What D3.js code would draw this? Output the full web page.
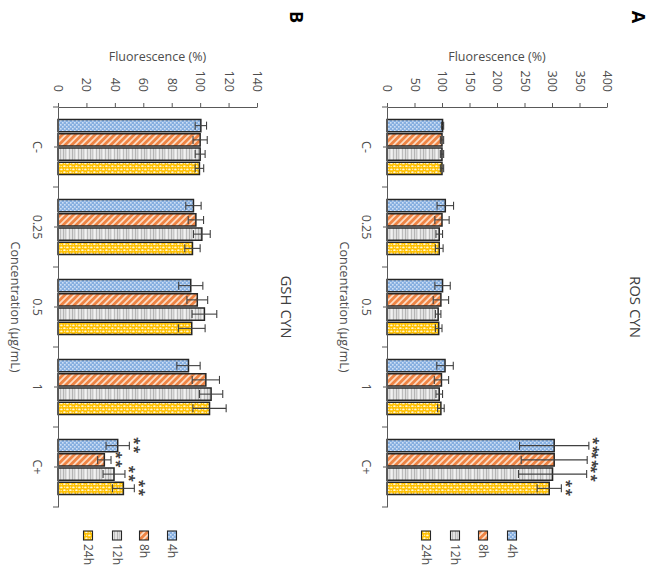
<!DOCTYPE html>
<html><head><meta charset="utf-8">
<script src="https://cdn.jsdelivr.net/npm/d3@7"></script>
<style>html,body{margin:0;padding:0;background:#fff;} svg{display:block;}</style>
</head><body>
<svg id="chart" width="652" height="566"></svg>
<script>
const categories = ["C-", "0.25", "0.5", "1", "C+"];
const series = ["4h", "8h", "12h", "24h"];

// ROS CYN, fluorescence (% of control)
const ros4h  = [101, 106, 101, 105.5, 304];
const ros8h  = [100, 100, 98, 99, 304];
const ros12h = [100, 95, 93, 95, 301];
const ros24h = [100, 95, 94, 98, 295];
const rosErr4h  = [2, 15, 14, 15, 63];
const rosErr8h  = [3, 13, 14, 13, 60];
const rosErr12h = [3, 6, 5, 6, 62];
const rosErr24h = [3, 7, 6, 6, 22];
const rosSig = ["", "", "", "", "**"];
const rosTicks = [0, 50, 100, 150, 200, 250, 300, 350, 400];

// GSH CYN, fluorescence (% of control)
const gsh4h  = [100.5, 95.3, 93.4, 91.8, 42];
const gsh8h  = [100, 97, 98, 104, 32.6];
const gsh12h = [100, 101.2, 103, 107.7, 39.4];
const gsh24h = [99.5, 94.6, 94.1, 106.6, 46];
const gshErr4h  = [4, 5.4, 8.5, 8.2, 8.2];
const gshErr8h  = [5, 5.4, 7.3, 9.6, 4.7];
const gshErr12h = [3.5, 5.9, 8.7, 8.2, 7.7];
const gshErr24h = [3, 5.4, 9.4, 11.7, 7.7];
const gshSig = ["", "", "", "", "**"];
const gshTicks = [0, 20, 40, 60, 80, 100, 120, 140];

const FONT = "'Open Sans', 'Liberation Sans', sans-serif";
const TXT = "#4d4d4d";

const svg = d3.select("#chart");
const defs = svg.append("defs");

// Fill patterns for the four exposure times
function pattern(id, w, h, transform) {
  const p = defs.append("pattern").attr("id", id)
    .attr("patternUnits", "userSpaceOnUse").attr("width", w).attr("height", h);
  if (transform) p.attr("patternTransform", transform);
  return p;
}
const p4 = pattern("pat-4h", 4, 4);
p4.append("rect").attr("width", 4).attr("height", 4).attr("fill", "#86afe0");
p4.append("rect").attr("x", 0).attr("y", 0).attr("width", 1.6).attr("height", 1.6).attr("fill", "#cfe0f5");
p4.append("rect").attr("x", 2).attr("y", 2).attr("width", 1.6).attr("height", 1.6).attr("fill", "#cfe0f5");

const p8 = pattern("pat-8h", 4.6, 4.6, "rotate(45)");
p8.append("rect").attr("width", 4.6).attr("height", 4.6).attr("fill", "#fcdcc4");
p8.append("rect").attr("width", 2.8).attr("height", 4.6).attr("fill", "#ef8444");

const p12 = pattern("pat-12h", 9, 10);
p12.append("rect").attr("width", 9).attr("height", 10).attr("fill", "#dedede");
[[0, 1, "#b4b4b4"], [2, 1, "#c8c8c8"], [4, 1.5, "#f2f2f2"], [6, 1, "#bdbdbd"], [7.6, 0.8, "#ececec"]]
  .forEach(([x, w, c]) => p12.append("rect").attr("x", x).attr("width", w).attr("height", 10).attr("fill", c));

const p24 = pattern("pat-24h", 6, 6);
p24.append("rect").attr("width", 6).attr("height", 6).attr("fill", "#ffc000");
[[1.4, 1.4], [4.4, 4.2], [4.6, 1.2], [1.2, 4.6]].forEach(([cx, cy], i) =>
  p24.append("ellipse").attr("cx", cx).attr("cy", cy)
    .attr("rx", i < 2 ? 1.3 : 0.7).attr("ry", i < 2 ? 0.9 : 0.6).attr("fill", "#fff6d9"));

const fills = series.map(s => `url(#pat-${s})`);

const panels = [
  {
    letter: "B", title: "GSH CYN",
    values: [gsh4h, gsh8h, gsh12h, gsh24h],
    errors: [gshErr4h, gshErr8h, gshErr12h, gshErr24h],
    sig: gshSig, ticks: gshTicks,
    x0: 58, x1: 257, titleX: 287, letterX: 297, legendX: [172, 144, 117, 88]
  },
  {
    letter: "A", title: "ROS CYN",
    values: [ros4h, ros8h, ros12h, ros24h],
    errors: [rosErr4h, rosErr8h, rosErr12h, rosErr24h],
    sig: rosSig, ticks: rosTicks,
    x0: 387, x1: 607, titleX: 636, letterX: 639, legendX: [512, 483, 455, 426]
  }
];

const yTop = 107, yBot = 507;

panels.forEach(P => {
  const g = svg.append("g");
  const x = d3.scaleLinear().domain([0, d3.max(P.ticks)]).range([P.x0, P.x1]);
  const y = d3.scaleBand().domain(categories).range([yTop, yBot]).paddingInner(0).paddingOuter(0);
  const ys = d3.scaleBand().domain(series).range([12.5, y.step() - 12.5]).paddingInner(0.14);

  // bars
  series.forEach((s, si) => {
    g.append("g").selectAll("rect").data(categories).join("rect")
      .attr("x", x(0))
      .attr("y", c => y(c) + ys(s))
      .attr("width", (c, ci) => x(P.values[si][ci]) - x(0))
      .attr("height", ys.bandwidth())
      .attr("fill", fills[si])
      .attr("stroke", "#262626").attr("stroke-width", 1.5);
  });

  // error bars
  series.forEach((s, si) => {
    const eg = g.append("g").attr("stroke", "#404040").attr("stroke-width", 1.1).attr("fill", "none");
    categories.forEach((c, ci) => {
      const v = P.values[si][ci], e = P.errors[si][ci];
      const yc = y(c) + ys(s) + ys.bandwidth() / 2;
      const xa = x(v - e), xb = x(v + e);
      eg.append("line").attr("x1", xa).attr("x2", xb).attr("y1", yc).attr("y2", yc);
      eg.append("line").attr("x1", xa).attr("x2", xa).attr("y1", yc - 4).attr("y2", yc + 4);
      eg.append("line").attr("x1", xb).attr("x2", xb).attr("y1", yc - 4).attr("y2", yc + 4);
      if (P.sig[ci]) {
        g.append("text").text(P.sig[ci])
          .attr("transform", `translate(${xb + 5},${yc}) rotate(90)`)
          .attr("text-anchor", "middle").attr("dominant-baseline", "central")
          .attr("font-family", FONT).attr("font-size", 14).attr("font-weight", "bold")
          .attr("letter-spacing", 1).attr("fill", "#404040");
      }
    });
  });

  // value axis (across the top)
  const ax = g.append("g").attr("transform", `translate(0,${yTop})`)
    .call(d3.axisTop(x).tickValues(P.ticks).tickSize(4).tickSizeOuter(0));
  ax.select(".domain").attr("stroke", "#595959");
  ax.selectAll(".tick line").attr("stroke", "#595959");
  ax.selectAll(".tick text")
    .attr("x", 0).attr("y", 0).attr("dy", null)
    .attr("transform", "translate(0,-15) rotate(90)")
    .attr("text-anchor", "end").attr("dominant-baseline", "central")
    .attr("font-family", FONT).attr("font-size", 12.5).attr("fill", TXT);

  // category axis (down the left side)
  const cx = g.append("g").attr("transform", `translate(${x(0)},0)`)
    .call(d3.axisLeft(y).tickSize(4).tickSizeOuter(0));
  cx.select(".domain").attr("stroke", "#595959");
  cx.selectAll(".tick line").attr("stroke", "#595959");
  cx.selectAll(".tick text")
    .attr("x", 0).attr("dy", null)
    .attr("transform", "translate(-21,0) rotate(90)")
    .attr("text-anchor", "middle").attr("dominant-baseline", "central")
    .attr("font-family", FONT).attr("font-size", 12.5).attr("fill", TXT);
  const bounds = d3.range(categories.length + 1).map(i => yTop + i * y.step());
  cx.append("g").selectAll("line").data(bounds).join("line")
    .attr("x1", -5).attr("x2", 0).attr("y1", d => d).attr("y2", d => d)
    .attr("stroke", "#595959");

  // axis titles
  g.append("text").text("Fluorescence (%)")
    .attr("x", (P.x0 + P.x1) / 2).attr("y", 61)
    .attr("text-anchor", "middle")
    .attr("font-family", FONT).attr("font-size", 12.5).attr("fill", TXT);
  g.append("text").text("Concentration (µg/mL)")
    .attr("transform", `translate(${x(0) - 43},${(yTop + yBot) / 2}) rotate(90)`)
    .attr("text-anchor", "middle").attr("dominant-baseline", "central")
    .attr("font-family", FONT).attr("font-size", 12.5).attr("fill", TXT);

  // chart title and panel letter
  g.append("text").text(P.title)
    .attr("transform", `translate(${P.titleX},${(yTop + yBot) / 2}) rotate(90)`)
    .attr("text-anchor", "middle").attr("dominant-baseline", "central")
    .attr("font-family", FONT).attr("font-size", 15).attr("fill", "#404040");
  g.append("text").text(P.letter)
    .attr("transform", `translate(${P.letterX},17) rotate(90)`)
    .attr("text-anchor", "middle").attr("dominant-baseline", "central")
    .attr("font-family", FONT).attr("font-size", 18).attr("font-weight", "bold").attr("fill", "#000");

  // legend
  const lg = g.append("g").selectAll("g").data(series).join("g")
    .attr("transform", (s, i) => `translate(${P.legendX[i]},0)`);
  lg.append("rect").attr("x", -4.5).attr("y", 531).attr("width", 9).attr("height", 9)
    .attr("fill", (s, i) => fills[i]).attr("stroke", "#262626").attr("stroke-width", 1.1);
  lg.append("text").text(s => s)
    .attr("transform", "translate(0,544) rotate(90)")
    .attr("text-anchor", "start").attr("dominant-baseline", "central")
    .attr("font-family", FONT).attr("font-size", 12).attr("fill", TXT);
});
</script>
</body></html>
